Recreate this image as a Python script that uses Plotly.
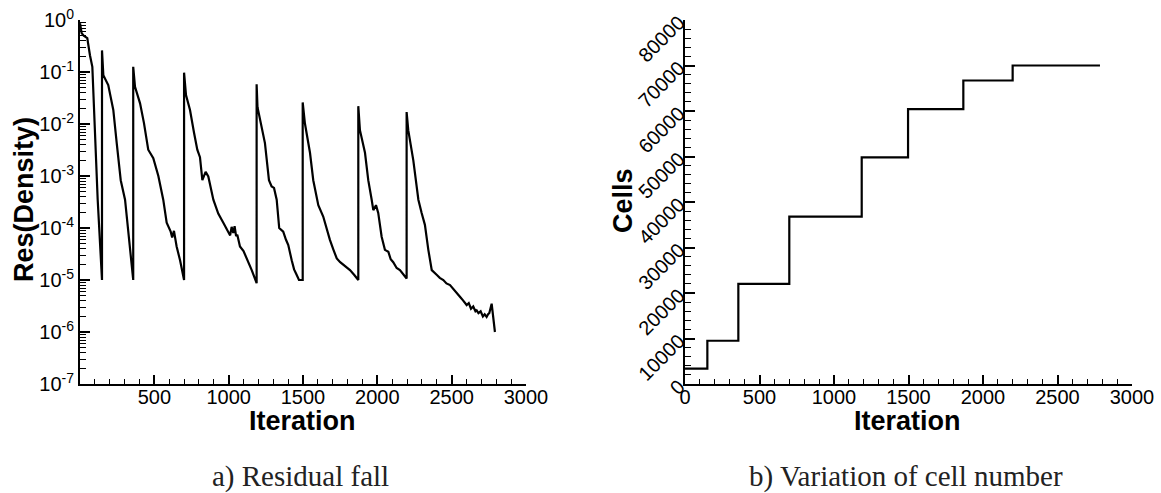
import plotly.graph_objects as go

# ---------------- data ----------------
# a) residual history (iteration, residual of density)
res_iter = [
    0, 11, 25, 49, 67, 83, 119, 148,
    148, 157, 190, 224, 247, 274, 303, 358,
    358, 370, 404, 430, 459, 493, 527, 560, 583, 610, 620, 632, 650, 673, 700,
    700, 713, 740, 767, 789, 807, 823, 845, 863, 897, 930, 965, 997, 1010, 1020, 1031, 1040, 1050, 1058,
    1076, 1100, 1121, 1140, 1155, 1188,
    1188, 1194, 1244, 1271, 1289, 1305, 1323, 1340, 1367, 1385, 1401, 1424, 1440, 1457, 1473, 1498,
    1498, 1513, 1547, 1569, 1592, 1603, 1636, 1660, 1681, 1705, 1727, 1750, 1771, 1795, 1816, 1845, 1872,
    1872, 1883, 1917, 1939, 1962, 1973, 1991, 2006, 2029, 2051, 2074, 2090, 2107, 2130, 2152, 2175, 2197,
    2197, 2208, 2242, 2265, 2276, 2298, 2320, 2343, 2366, 2399, 2420, 2444, 2465, 2489, 2505, 2520,
    2535, 2544, 2560, 2575, 2590, 2601, 2615, 2630, 2645, 2660, 2668, 2680, 2695, 2710, 2722, 2735,
    2745, 2753, 2769, 2780, 2791,
]
res_val = [
    0.87, 0.56, 0.50, 0.45, 0.21, 0.126, 3.5e-4, 1.0e-5,
    0.26, 0.087, 0.056, 0.0186, 0.0043, 8.3e-4, 3.5e-4, 1.0e-5,
    0.126, 0.052, 0.025, 0.0105, 0.0032, 0.0022, 0.0010, 3.5e-4, 1.26e-4, 8.5e-5, 6.6e-5, 8.8e-5, 4.4e-5, 2.4e-5, 1.0e-5,
    0.097, 0.036, 0.0186, 0.0068, 0.0032, 0.0023, 8.3e-4, 0.0012, 9.8e-4, 3.5e-4, 1.9e-4, 1.25e-4, 8.5e-5, 7.2e-5, 1.05e-4, 8.0e-5, 1.08e-4, 7.0e-5, 7.4e-5,
    4.4e-5, 3.6e-5, 2.6e-5, 2.1e-5, 1.55e-5, 8.7e-6,
    0.058, 0.021, 0.0043, 8.3e-4, 6.3e-4, 5.9e-4, 3.5e-4, 1.0e-4, 8.5e-5, 6.0e-5, 4.7e-5, 2.4e-5, 1.6e-5, 1.26e-5, 1.0e-5, 1.0e-5,
    0.026, 0.0102, 0.0028, 8.3e-4, 3.5e-4, 2.75e-4, 1.66e-4, 9.5e-5, 5.9e-5, 3.8e-5, 2.6e-5, 2.2e-5, 1.95e-5, 1.7e-5, 1.55e-5, 1.25e-5, 1.0e-5,
    0.022, 0.0076, 0.0028, 8.3e-4, 3.5e-4, 2.2e-4, 2.75e-4, 1.95e-4, 6.8e-5, 3.8e-5, 3.5e-5, 2.5e-5, 2.2e-5, 1.7e-5, 1.55e-5, 1.3e-5, 1.07e-5,
    0.017, 0.0076, 0.0020, 6.3e-4, 3.5e-4, 1.95e-4, 1.15e-4, 3.8e-5, 1.55e-5, 1.26e-5, 1.1e-5, 1.0e-5, 8.6e-6, 8.0e-6, 7.0e-6, 6.4e-6,
    5.4e-6, 5.1e-6, 4.6e-6, 4.1e-6, 3.6e-6, 3.3e-6, 3.6e-6, 2.8e-6, 3.1e-6, 2.5e-6, 2.6e-6, 2.3e-6, 2.5e-6, 2.0e-6, 2.2e-6, 1.95e-6,
    2.2e-6, 2.3e-6, 3.5e-6, 1.95e-6, 1.0e-6,
]

# b) number of cells after each adaptation (step function)
cell_iter = [0, 150, 358, 700, 1186, 1497, 1868, 2199, 2785]
cell_count = [3400, 9500, 22000, 36800, 49800, 60400, 66700, 70000, 70000]

# axis ticks
res_tick_vals = [1e-7, 1e-6, 1e-5, 1e-4, 1e-3, 1e-2, 1e-1, 1]
res_tick_text = ["10<sup>-7</sup>", "10<sup>-6</sup>", "10<sup>-5</sup>", "10<sup>-4</sup>",
                 "10<sup>-3</sup>", "10<sup>-2</sup>", "10<sup>-1</sup>", "10<sup>0</sup>"]
iter_ticks_left = [500, 1000, 1500, 2000, 2500, 3000]

# ---------------- figure ----------------
W, H = 1161, 493
sans = "Liberation Sans, Arial, sans-serif"
serif = "Liberation Serif, Times New Roman, serif"

fig = go.Figure()
fig.add_trace(go.Scatter(x=res_iter, y=res_val, mode="lines",
                         line=dict(color="black", width=2.2), xaxis="x", yaxis="y",
                         showlegend=False))
fig.add_trace(go.Scatter(x=cell_iter, y=cell_count, mode="lines", line_shape="hv",
                         line=dict(color="black", width=2.2), xaxis="x2", yaxis="y2",
                         showlegend=False))

minor_log = [m * 10.0 ** e for e in range(-7, 0) for m in range(2, 10)]

ydom = [1 - 384 / H, 1 - 20 / H]
axis_common = dict(showline=True, linecolor="black", linewidth=2, ticks="inside",
                   tickcolor="black", tickwidth=1.6, showgrid=False, zeroline=False,
                   automargin=False,
                   tickfont=dict(family=sans, size=20, color="black"))

fig.update_layout(
    width=W, height=H, margin=dict(l=0, r=0, t=0, b=0),
    paper_bgcolor="white", plot_bgcolor="white",
    xaxis=dict(domain=[80 / W, 526 / W], range=[0, 3000], anchor="y",
               tickmode="array", tickvals=iter_ticks_left, ticklen=9, ticklabelstandoff=-6,
               minor=dict(ticks="inside", dtick=100, tick0=0, ticklen=5, tickwidth=1.3,
                          tickcolor="black"),
               **axis_common),
    yaxis=dict(domain=ydom, type="log", range=[-7, 0], anchor="x",
               tickmode="array", tickvals=res_tick_vals, ticktext=res_tick_text, ticklen=10,
               minor=dict(ticks="inside", tickmode="array", tickvals=minor_log, ticklen=6,
                          tickwidth=1.3, tickcolor="black"),
               **axis_common),
    xaxis2=dict(domain=[685 / W, 1132 / W], range=[0, 3000], anchor="y2",
                dtick=500, tick0=0, ticklen=9, ticklabelstandoff=-6,
                minor=dict(ticks="inside", dtick=100, tick0=0, ticklen=5, tickwidth=1.3,
                           tickcolor="black"),
                **axis_common),
    yaxis2=dict(domain=ydom, range=[0, 80000], anchor="x2", dtick=10000, tick0=0,
                tickformat="d", tickangle=-45, ticklen=10,
                minor=dict(ticks="inside", dtick=2000, tick0=0, ticklen=6, tickwidth=1.3,
                           tickcolor="black"),
                **axis_common),
)

title_font = dict(family=sans, size=27, color="black")
cap_font = dict(family=serif, size=29, color="#222222")
ann = [
    dict(text="<b>Res(Density)</b>", x=24 / W, y=1 - 200 / H, textangle=-90, font=title_font),
    dict(text="<b>Iteration</b>", x=302.5 / W, y=1 - 421 / H, font=title_font),
    dict(text="<b>Iteration</b>", x=907 / W, y=1 - 421 / H, font=title_font),
    dict(text="<b>Cells</b>", x=623 / W, y=1 - 201 / H, textangle=-90, font=title_font),
    dict(text="a) Residual fall", x=300 / W, y=1 - 476 / H, font=cap_font),
    dict(text="b) Variation of cell number", x=906 / W, y=1 - 476 / H, font=cap_font),
]
for a in ann:
    fig.add_annotation(xref="paper", yref="paper", showarrow=False,
                       xanchor="center", yanchor="middle", **a)

fig.write_html("out.html")
